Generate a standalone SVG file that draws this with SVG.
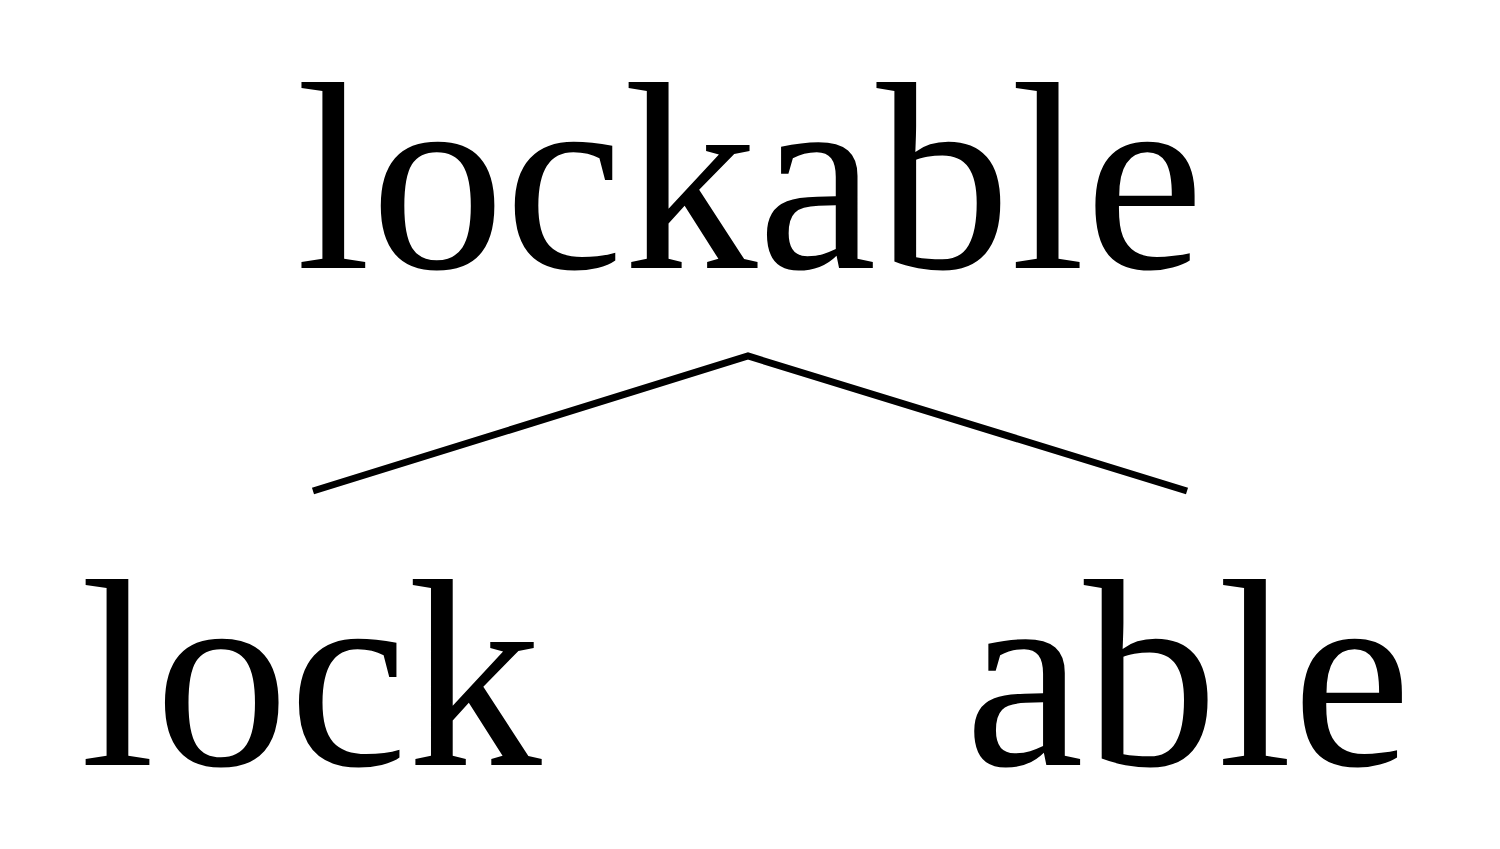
<svg xmlns="http://www.w3.org/2000/svg" width="1500" height="849" viewBox="0 0 1500 849">
<style>
.t{font-family:"Liberation Serif","Times New Roman",serif;font-size:268px;fill:#000;text-anchor:middle}
.e{stroke:#000;stroke-width:7;fill:none;stroke-linejoin:miter}
</style>
<rect width="1500" height="849" fill="#fff"/>
<g id="connectors">
<polyline class="e" points="313,491 748,356 1187,491"/>
</g>
<g id="node-lockable"><text class="t" x="750" y="268">lockable</text></g>
<g id="node-lock"><text class="t" x="311" y="765">lock</text></g>
<g id="node-able"><text class="t" x="1188" y="765">able</text></g>
</svg>
